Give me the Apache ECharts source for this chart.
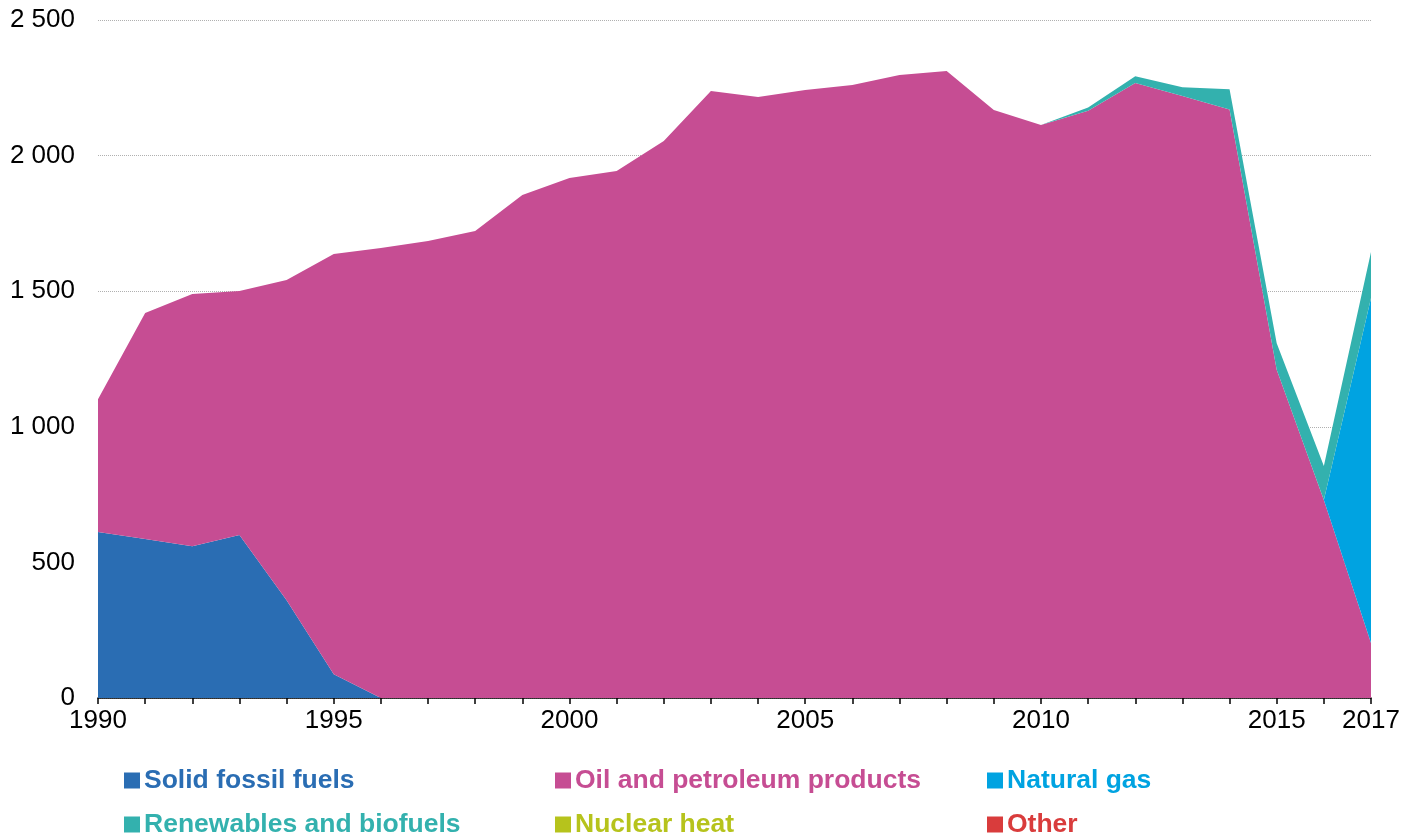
<!DOCTYPE html>
<html>
<head>
<meta charset="utf-8">
<script src="https://cdn.jsdelivr.net/npm/echarts@6/dist/echarts.min.js"></script>
<style>
html,body{margin:0;padding:0;background:#fff;}
#chart{width:1418px;height:834px;}
</style>
</head>
<body>
<div id="chart"></div>
<script>
const years = ['1990','1991','1992','1993','1994','1995','1996','1997','1998','1999','2000','2001','2002','2003','2004','2005','2006','2007','2008','2009','2010','2011','2012','2013','2014','2015','2016','2017'];
const solidFossil = [612,586,560,601,360,88,0,0,0,0,0,0,0,0,0,0,0,0,0,0,0,0,0,0,0,0,0,0];
const oilPetroleum = [490,834,930,900,1181,1549,1659,1685,1722,1855,1917,1943,2054,2238,2216,2242,2260,2297,2312,2168,2113,2165,2268,2220,2170,1210,730,203];
const naturalGas = [0,0,0,0,0,0,0,0,0,0,0,0,0,0,0,0,0,0,0,0,0,0,0,0,0,0,0,1272];
const renewables = [0,0,0,0,0,0,0,0,0,0,0,0,0,0,0,0,0,0,0,0,0,12,25,32,75,98,125,170];
const nuclearHeat = [0,0,0,0,0,0,0,0,0,0,0,0,0,0,0,0,0,0,0,0,0,0,0,0,0,0,0,0];
const other = [0,0,0,0,0,0,0,0,0,0,0,0,0,0,0,0,0,0,0,0,0,0,0,0,0,0,0,0];
const seriesNames = ['Solid fossil fuels','Oil and petroleum products','Natural gas','Renewables and biofuels','Nuclear heat','Other'];
const yTicks = [0,500,1000,1500,2000,2500];
const shownYearLabels = ['1990','1995','2000','2005','2010','2015','2017'];

const colors = ['#2a6db3','#c64d93','#00a3e1','#33b1ae','#b6c31c','#d93c3c'];
const dataSets = [solidFossil, oilPetroleum, naturalGas, renewables, nuclearHeat, other];
const legendPos = [[124,767],[555,767],[987,767],[124,811],[555,811],[987,811]];

const font = 'Liberation Sans, Arial, sans-serif';
const chart = echarts.init(document.getElementById('chart'), null, {renderer:'canvas'});
const series = seriesNames.map((n,i)=>({
  name:n, type:'line', stack:'total', data:dataSets[i],
  showSymbol:false, symbol:'none', smooth:false,
  lineStyle:{width:0, color:colors[i]},
  itemStyle:{color:colors[i]},
  areaStyle:{color:colors[i], opacity:1},
  emphasis:{disabled:true}, animation:false
}));
const legends = seriesNames.map((n,i)=>({
  data:[{name:n, icon:'rect'}], left:legendPos[i][0], top:legendPos[i][1],
  itemWidth:16, itemHeight:16, itemGap:0, selectedMode:false, padding:0,
  textStyle:{color:colors[i], fontFamily:font, fontSize:26.5, fontWeight:'bold', padding:[0,0,0,-1]}
}));
chart.setOption({
  animation:false,
  color:colors,
  grid:{left:98, right:47, top:20, bottom:136, containLabel:false},
  legend:legends,
  xAxis:{
    type:'category', data:years, boundaryGap:false,
    axisLine:{lineStyle:{color:'#000', width:1.5}},
    axisTick:{interval:0, length:6, lineStyle:{color:'#000', width:1.5}},
    axisLabel:{interval:(idx,val)=>shownYearLabels.includes(val), color:'#000', fontFamily:font, fontSize:26, margin:10}
  },
  yAxis:{
    type:'value', min:0, max:2500, interval:500,
    axisLine:{show:false}, axisTick:{show:false},
    axisLabel:{color:'#000', fontFamily:font, fontSize:26, margin:23,
      formatter:v=>String(v).replace(/\B(?=(\d{3})+(?!\d))/g,' ')},
    splitLine:{lineStyle:{color:'#b0b0b0', type:'dotted', width:1}}
  },
  series:series
});
</script>
</body>
</html>
